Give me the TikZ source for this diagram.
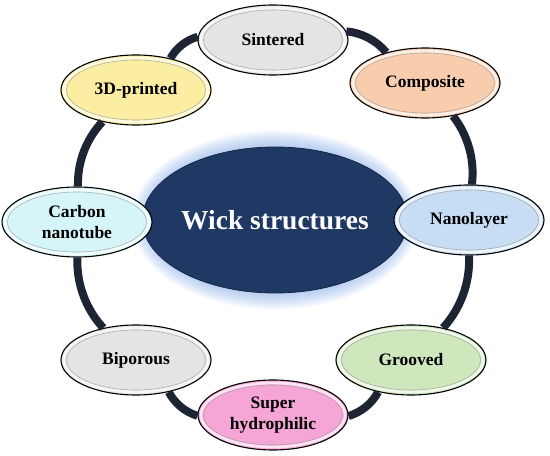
\documentclass[tikz,border=0pt]{standalone}
\usepackage{fontspec}
\setmainfont{Liberation Serif}
\usetikzlibrary{shapes.geometric}
\definecolor{ringc}{HTML}{1D2433}
\definecolor{navy}{HTML}{1F3864}
\definecolor{glowc}{HTML}{7FA8E6}
\definecolor{cSint}{HTML}{E4E4E4}
\definecolor{cComp}{HTML}{F8CDAE}
\definecolor{cNano}{HTML}{C6DDF4}
\definecolor{cGroov}{HTML}{D0E7BE}
\definecolor{cSuper}{HTML}{F5A6D6}
\definecolor{cBipor}{HTML}{E4E4E4}
\definecolor{cCarb}{HTML}{D6F5F8}
\definecolor{cPrint}{HTML}{FBEEA2}
\begin{document}
\begin{tikzpicture}[x=1pt,y=1pt,
  item/.style={ellipse, draw=black, line width=1.1pt,
    minimum width=150pt, minimum height=70pt, inner sep=0pt, align=center,
    font=\fontsize{17.5}{21}\selectfont\bfseries,
    path picture={
      \draw[white, line width=2.8pt, opacity=0.7] (path picture bounding box.center) ellipse [x radius=72pt, y radius=32pt];
      \draw[black!40, line width=0.6pt, opacity=0.7] (path picture bounding box.center) ellipse [x radius=69.5pt, y radius=30pt];
    }},
  hub/.style={ellipse, fill=navy, draw=navy!70!black, line width=0.8pt,
    minimum width=254pt, minimum height=146pt, inner sep=0pt,
    text=white, font=\fontsize{27.5}{30}\selectfont\bfseries},
  ringseg/.style={draw=ringc, line width=8pt, bend left=22.5, looseness=0.885}]
\useasboundingbox (0,0) rectangle (550,456);
% glow around the central ellipse
\foreach \i in {2,4,...,16}
  \fill[glowc, opacity=0.09] (275,236) ellipse [x radius={127+\i}, y radius={73+\i}];
\node[hub] (wick) at (275,236) {Wick structures};
\node[item, fill=cSint]  (sint)  at (273,416) {Sintered};
\node[item, fill=cComp]  (comp)  at (425,373) {Composite};
\node[item, fill=cNano]  (nano)  at (469,236) {Nanolayer};
\node[item, fill=cGroov] (groov) at (411,96)  {Grooved};
\node[item, fill=cSuper] (super) at (273,41)  {Super\\hydrophilic};
\node[item, fill=cBipor] (bipor) at (136,96)  {Biporous};
\node[item, fill=cCarb]  (carb)  at (77,234)  {Carbon\\nanotube};
\node[item, fill=cPrint] (print) at (136,366) {3D-printed};
\draw[ringseg] (sint) to (comp);
\draw[ringseg] (comp) to (nano);
\draw[ringseg] (nano) to (groov);
\draw[ringseg] (groov) to (super);
\draw[ringseg] (super) to (bipor);
\draw[ringseg] (bipor) to (carb);
\draw[ringseg] (carb) to (print);
\draw[ringseg] (print) to (sint);
\end{tikzpicture}
\end{document}
